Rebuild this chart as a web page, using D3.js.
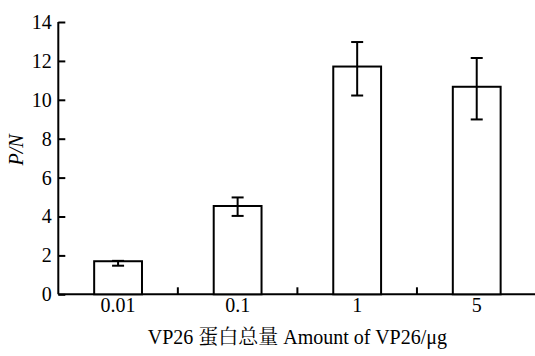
<!DOCTYPE html>
<html>
<head>
<meta charset="utf-8">
<script src="https://cdn.jsdelivr.net/npm/d3@7"></script>
</head>
<body style="margin:0;background:#fff">
<svg width="535" height="356" style="display:block"></svg>
<script>
// chart data
const categories = ['0.01', '0.1', '1', '5'];
const values = [1.70, 4.54, 11.71, 10.67];
const errLow = [1.47, 4.03, 10.22, 8.99];
const errHigh = [1.72, 4.98, 12.97, 12.15];
const yTicks = [0, 2, 4, 6, 8, 10, 12, 14];

const serif = "font-family:'Liberation Serif','Noto Serif CJK SC',serif;font-size:20px";

const svg = d3.select('svg');
const plotLeft = 58.3, plotRight = 536.5, plotTop = 22, plotBottom = 294.3;

const xScale = d3.scaleBand()
  .range([plotLeft, plotRight])
  .domain(categories)
  .padding(0);

const yScale = d3.scaleLinear()
  .range([plotBottom, plotTop])
  .domain([0, 14]);

// y axis, ticks pointing inward
const yAxis = svg.append('g')
  .attr('transform', `translate(${plotLeft}, 0)`)
  .call(d3.axisLeft(yScale).tickValues(yTicks).tickSize(-7).tickPadding(6.5).tickFormat(d3.format('d')));
yAxis.select('.domain').attr('d', `M0,${plotTop}V${plotBottom}`);

// x axis labels
const xAxis = svg.append('g')
  .attr('transform', `translate(0, ${plotBottom})`)
  .call(d3.axisBottom(xScale).tickSize(0).tickPadding(4));
xAxis.select('.domain').attr('d', `M${plotLeft},0H${plotRight}`);

[yAxis, xAxis].forEach(a => {
  a.attr('font-family', null).attr('font-size', null);
  a.selectAll('.domain, .tick line').attr('stroke', '#000').attr('stroke-width', 2);
  a.selectAll('text').attr('style', serif).attr('fill', '#000');
});
xAxis.selectAll('text').attr('dy', '0.71em');

// x ticks at category boundaries
svg.append('g')
  .selectAll('line')
  .data(categories.slice(1))
  .enter()
  .append('line')
  .attr('x1', d => xScale(d))
  .attr('x2', d => xScale(d))
  .attr('y1', plotBottom)
  .attr('y2', plotBottom - 7)
  .attr('stroke', '#000')
  .attr('stroke-width', 2);

const bw = xScale.bandwidth() * 0.4;
const cx = d => xScale(d) + xScale.bandwidth() / 2;

// bars
svg.append('g')
  .selectAll('rect')
  .data(categories)
  .enter()
  .append('rect')
  .attr('x', d => cx(d) - bw / 2)
  .attr('y', (d, i) => yScale(values[i]))
  .attr('width', bw)
  .attr('height', (d, i) => plotBottom - yScale(values[i]))
  .attr('fill', '#fff')
  .attr('stroke', '#000')
  .attr('stroke-width', 2);

// error bars
const err = svg.append('g').attr('stroke', '#000').attr('stroke-width', 2);
categories.forEach((c, i) => {
  const x = cx(c);
  err.append('line').attr('x1', x).attr('x2', x)
    .attr('y1', yScale(errLow[i])).attr('y2', yScale(errHigh[i]));
  [errLow[i], errHigh[i]].forEach(v => {
    err.append('line').attr('x1', x - 6).attr('x2', x + 6)
      .attr('y1', yScale(v)).attr('y2', yScale(v));
  });
});

// axis titles
svg.append('text')
  .attr('transform', 'translate(23, 150) rotate(-90)')
  .attr('text-anchor', 'middle')
  .attr('style', serif + ';font-style:italic')
  .text('P/N');

svg.append('text')
  .attr('x', (plotLeft + plotRight) / 2)
  .attr('y', 344)
  .attr('text-anchor', 'middle')
  .attr('style', serif)
  .text('VP26 蛋白总量 Amount of VP26/μg');
</script>
</body>
</html>
